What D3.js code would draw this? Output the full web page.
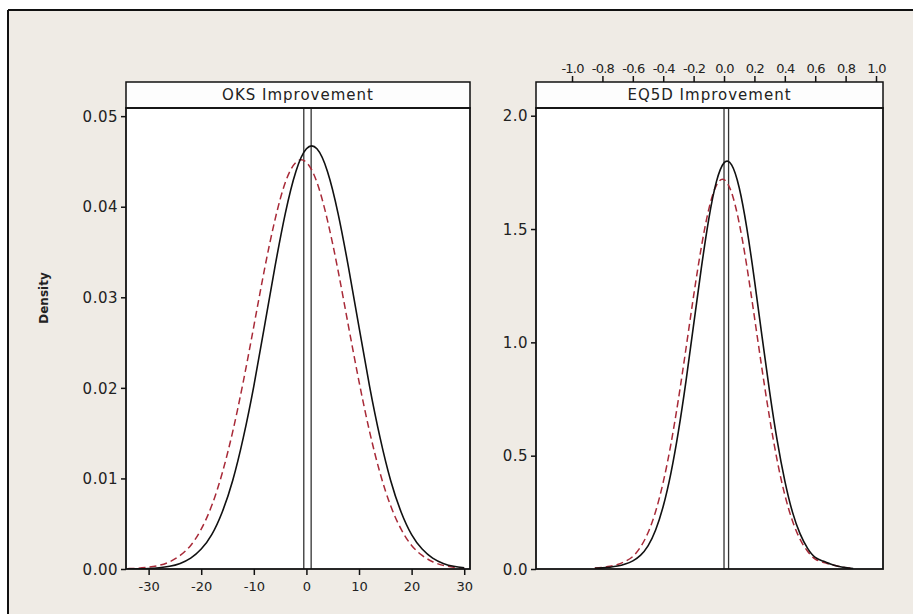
<!DOCTYPE html>
<html>
<head>
<meta charset="utf-8">
<script src="https://cdn.jsdelivr.net/npm/d3@7"></script>
<style>
  body { margin: 0; background: #fff; }
  svg text { font-family: "DejaVu Sans", sans-serif; fill: #222; }
</style>
</head>
<body>
<div id="chart"></div>
<script>
var w = 913; // page width
var h = 614; // page height

// OKS Improvement panel: grid of x values, two density curves
var oksX = [-34,-32,-30,-28,-26,-24,-22,-20,-18,-16,-14,-12,-10,-8,-6,-4,-2,0,2,4,6,8,10,12,14,16,18,20,22,24,26,28,30];
var oksBlack = [0.00001,0.00003,0.00006,0.00014,0.0003,0.00062,0.0012,0.0022,0.0038,0.0063,0.0098,0.0145,0.0202,0.0267,0.0333,0.0393,0.0439,0.0464,0.0464,0.0439,0.0393,0.0333,0.0267,0.0202,0.0145,0.0098,0.0063,0.0038,0.0022,0.0012,0.00062,0.0003,0.00014];
var oksRed = [0.00004,0.00009,0.0002,0.0004,0.0008,0.0015,0.0026,0.0044,0.0070,0.0106,0.0152,0.0207,0.0268,0.0330,0.0385,0.0427,0.0449,0.0449,0.0427,0.0385,0.0330,0.0268,0.0207,0.0152,0.0106,0.0070,0.0044,0.0026,0.0015,0.0008,0.0004,0.0002,0.00009];
var oksRefs = [-0.5, 0.9];
var oksTicksX = [-30, -20, -10, 0, 10, 20, 30];
var oksTicksY = [0, 0.01, 0.02, 0.03, 0.04, 0.05];

// EQ5D Improvement panel
var eqX = [-0.85,-0.8,-0.75,-0.7,-0.65,-0.6,-0.55,-0.5,-0.45,-0.4,-0.35,-0.3,-0.25,-0.2,-0.15,-0.1,-0.05,0,0.05,0.1,0.15,0.2,0.25,0.3,0.35,0.4,0.45,0.5,0.55,0.6,0.65,0.7,0.75,0.8,0.85];
var eqBlack = [0.003,0.005,0.008,0.013,0.022,0.036,0.06,0.102,0.172,0.277,0.421,0.607,0.830,1.077,1.324,1.545,1.709,1.792,1.783,1.682,1.504,1.276,1.026,0.783,0.566,0.389,0.252,0.156,0.091,0.051,0.035,0.022,0.012,0.006,0.002];
var eqRed = [0.004,0.007,0.012,0.02,0.034,0.055,0.0965,0.160,0.254,0.383,0.549,0.749,0.974,1.205,1.417,1.588,1.693,1.718,1.660,1.526,1.336,1.112,0.882,0.666,0.478,0.327,0.213,0.132,0.078,0.044,0.03,0.02,0.012,0.006,0.003];
var eqRefs = [0, 0.03];
var eqTicksX = [-1.0, -0.8, -0.6, -0.4, -0.2, 0.0, 0.2, 0.4, 0.6, 0.8, 1.0];
var eqTicksY = [0, 0.5, 1.0, 1.5, 2.0];

var titles = ["OKS Improvement", "EQ5D Improvement"];

var svg = d3.select("#chart").append("svg")
    .attr("width", w)
    .attr("height", h);

// beige frame with a dark top/left border
svg.append("rect").attr("x", 0).attr("y", 0).attr("width", w).attr("height", h).attr("fill", "#fff");
svg.append("rect").attr("x", 8).attr("y", 10).attr("width", w - 8).attr("height", h - 10).attr("fill", "#efebe5");
svg.append("line").attr("x1", 8).attr("x2", w).attr("y1", 10).attr("y2", 10).attr("stroke", "#111").attr("stroke-width", 2);
svg.append("line").attr("x1", 8).attr("x2", 8).attr("y1", 10).attr("y2", h).attr("stroke", "#111").attr("stroke-width", 2);

var plotTop = 108, plotBottom = 569, headTop = 82;

// hyphen instead of unicode minus, like the original
function hyph(f) { return function(d) { return f(d).replace("\u2212", "-"); }; }

var panels = [
  { title: titles[0], x: oksX, black: oksBlack, red: oksRed, refs: oksRefs,
    xs: d3.scaleLinear().domain([-34.3, 31.1]).range([126, 470]),
    ys: d3.scaleLinear().domain([0, 0.0509]).range([plotBottom, plotTop]),
    ticksX: oksTicksX, ticksY: oksTicksY, fmtY: d3.format(".2f"), xAxisPos: "bottom" },
  { title: titles[1], x: eqX, black: eqBlack, red: eqRed, refs: eqRefs,
    xs: d3.scaleLinear().domain([-1.237, 1.046]).range([536, 883]),
    ys: d3.scaleLinear().domain([0, 2.034]).range([plotBottom, plotTop]),
    ticksX: eqTicksX, ticksY: eqTicksY, fmtY: d3.format(".1f"), xAxisPos: "top" }
];

panels.forEach(function(p, i) {
  var x0 = p.xs.range()[0], x1 = p.xs.range()[1];
  var g = svg.append("g");

  // plot area
  g.append("rect").attr("x", x0).attr("y", plotTop).attr("width", x1 - x0).attr("height", plotBottom - plotTop)
    .attr("fill", "#fff");

  // header strip
  g.append("rect").attr("x", x0).attr("y", headTop).attr("width", x1 - x0).attr("height", plotTop - headTop)
    .attr("fill", "#fdfdfd").attr("stroke", "#111").attr("stroke-width", 1.5);
  g.append("text")
    .attr("x", (x0 + x1) / 2).attr("y", headTop + 18)
    .attr("text-anchor", "middle")
    .style("font-size", "15px")
    .style("letter-spacing", "1px")
    .text(p.title);

  // clip for curves
  g.append("clipPath").attr("id", "clip" + i)
    .append("rect").attr("x", x0).attr("y", plotTop).attr("width", x1 - x0).attr("height", plotBottom - plotTop);

  // reference lines
  g.selectAll(".ref").data(p.refs).enter().append("line")
    .attr("x1", function(d) { return p.xs(d); })
    .attr("x2", function(d) { return p.xs(d); })
    .attr("y1", plotTop).attr("y2", plotBottom)
    .attr("stroke", "#333").attr("stroke-width", 1.3);

  var line = d3.line()
    .x(function(d) { return p.xs(d[0]); })
    .y(function(d) { return p.ys(d[1]); })
    .curve(d3.curveNatural);

  g.append("path")
    .datum(p.x.map(function(v, k) { return [v, p.red[k]]; }))
    .attr("clip-path", "url(#clip" + i + ")")
    .attr("d", line)
    .attr("fill", "none").attr("stroke", "#a82a38").attr("stroke-width", 1.5)
    .attr("stroke-dasharray", "7,4");

  g.append("path")
    .datum(p.x.map(function(v, k) { return [v, p.black[k]]; }))
    .attr("clip-path", "url(#clip" + i + ")")
    .attr("d", line)
    .attr("fill", "none").attr("stroke", "#111").attr("stroke-width", 1.6);

  // y axis
  var yAxis = g.append("g").attr("transform", "translate(" + x0 + ",0)")
    .call(d3.axisLeft(p.ys).tickValues(p.ticksY).tickFormat(p.fmtY).tickSize(5).tickSizeOuter(0));
  yAxis.select(".domain").remove();
  yAxis.selectAll("text").style("font-size", "15px").style("letter-spacing", "0.5px")
    .attr("x", -8).attr("dy", "0.35em");

  // x axis
  if (p.xAxisPos === "bottom") {
    var xAxis = g.append("g").attr("transform", "translate(0," + plotBottom + ")")
      .call(d3.axisBottom(p.xs).tickValues(p.ticksX).tickFormat(hyph(d3.format("d"))).tickSize(6).tickSizeOuter(0));
    xAxis.select(".domain").remove();
    xAxis.selectAll("text").style("font-size", "13px").attr("y", 13);
  } else {
    var xAxisT = g.append("g").attr("transform", "translate(0," + headTop + ")")
      .call(d3.axisTop(p.xs).tickValues(p.ticksX).tickFormat(hyph(d3.format(".1f"))).tickSize(6).tickSizeOuter(0));
    xAxisT.select(".domain").remove();
    xAxisT.selectAll("text").style("font-size", "13px").style("letter-spacing", "-0.8px").attr("y", -9);
  }
  g.selectAll(".tick line").attr("stroke", "#111").attr("stroke-width", 1.5);

  // panel border
  g.append("rect").attr("x", x0).attr("y", plotTop).attr("width", x1 - x0).attr("height", plotBottom - plotTop)
    .attr("fill", "none").attr("stroke", "#111").attr("stroke-width", 1.8);
});

// shared y axis title
svg.append("text")
  .attr("transform", "translate(48,298) rotate(-90)")
  .attr("text-anchor", "middle")
  .style("font-size", "12px")
  .style("font-weight", "bold")
  .text("Density");
</script>
</body>
</html>
